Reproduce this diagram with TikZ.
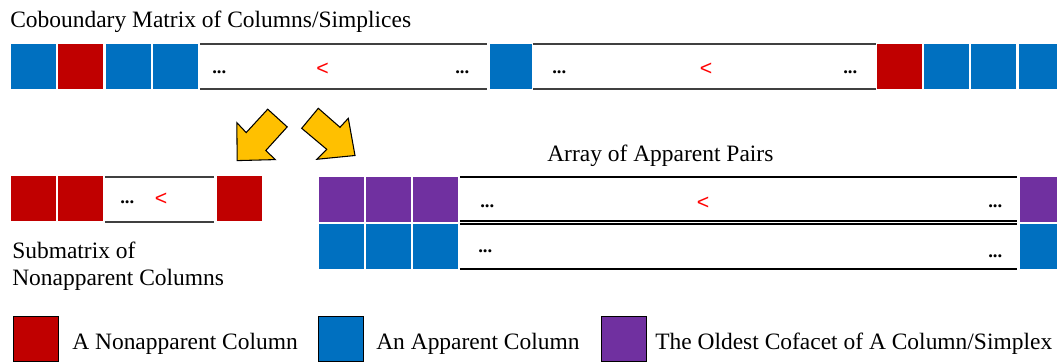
\documentclass[tikz,border=0pt]{standalone}
\usepackage{fontspec}
\setmainfont{Liberation Serif}
\newfontfamily\arialf{Liberation Sans}
\definecolor{cred}{HTML}{C00000}
\definecolor{cblue}{HTML}{0070C0}
\definecolor{cpurp}{HTML}{7030A0}
\definecolor{cyel}{HTML}{FFC000}
\definecolor{lined}{HTML}{404040}
\begin{document}
\begin{tikzpicture}[x=0.75pt,y=-0.75pt,
  cell/.style={rectangle,inner sep=0,minimum width=34.2pt,minimum height=34.2pt,draw=white,line width=0.4pt},
  rc/.style={cell,fill=cred},
  bc/.style={cell,fill=cblue},
  pc/.style={cell,fill=cpurp},
  lg/.style={rectangle,inner sep=0,minimum width=34pt,minimum height=34pt,draw=black,line width=0.8pt},
  box/.style={rectangle,inner sep=0,minimum height=33.4pt},
  boxline/.style={line width=1.3pt,draw=lined},
  txt/.style={anchor=base west,inner sep=0,font=\fontsize{17.6}{20}\selectfont},
  dots/.style={anchor=base west,inner sep=0,font=\fontsize{14}{17}\selectfont\bfseries},
  lt/.style={inner sep=0,text=red,font=\arialf\fontsize{16}{18}\selectfont},
  blk/.style={fill=cyel,draw=black,line width=0.8pt,line join=miter}]
\useasboundingbox (0,0) rectangle (1057,364);
\clip (0,0) rectangle (1057,364);
% title
\node[txt] (title) at (10,27) {Coboundary Matrix of Columns/Simplices};
% top row
\node[bc] (t1) at (33,66) {};
\node[rc] (t2) at (80.5,66) {};
\node[bc] (t3) at (128,66) {};
\node[bc] (t4) at (175.5,66) {};
\node[box,minimum width=215.2pt] (tb1) at (343.5,66.5) {};
\draw[boxline] (tb1.north west) -- (tb1.north east);
\draw[boxline] (tb1.south west) -- (tb1.south east);
\node[dots] (td1) at (212,73) {...};
\node[lt] (tl1) at (322.5,69.5) {<};
\node[dots] (td2) at (455,73) {...};
\node[bc,minimum width=32.6pt] (t5) at (510.5,66) {};
\node[box,minimum width=256.5pt] (tb2) at (704.5,66.5) {};
\draw[boxline] (tb2.north west) -- (tb2.north east);
\draw[boxline] (tb2.south west) -- (tb2.south east);
\node[dots] (td3) at (552,73) {...};
\node[lt] (tl2) at (706,69.5) {<};
\node[dots] (td4) at (843,73) {...};
\node[rc] (t6) at (899.5,66) {};
\node[bc] (t7) at (946.5,66) {};
\node[bc] (t8) at (993.5,66) {};
\node[bc] (t9) at (1041,66) {};
% yellow block arrows
\draw[blk] (287.2,126.9) -- (265.8,150.5) -- (275.3,159.6) -- (237.2,160.6) -- (236.8,122.6) -- (246.2,132.6) -- (267.7,109.2) -- cycle;
\draw[blk] (301.7,128.3) -- (326.7,149.3) -- (316.7,159.3) -- (355,155.5) -- (348.3,118.3) -- (340,127.3) -- (318.3,108.3) -- cycle;
% submatrix
\node[rc] (s1) at (33,198.5) {};
\node[rc] (s2) at (80.5,198.5) {};
\node[box,minimum width=81.7pt] (sb) at (159.5,199.5) {};
\draw[boxline] (sb.north west) -- (sb.north east);
\draw[boxline] (sb.south west) -- (sb.south east);
\node[dots] (sd1) at (120,203) {...};
\node[lt] (sl1) at (161,199.5) {<};
\node[rc] (s3) at (239.5,198.5) {};
\node[txt] (sub1) at (12,258) {Submatrix of};
\node[txt] (sub2) at (12,285) {Nonapparent Columns};
% array of apparent pairs
\node[txt] (arr) at (547,161) {Array of Apparent Pairs};
\node[pc] (p1) at (341,199.5) {};
\node[pc] (p2) at (388.5,199.5) {};
\node[pc] (p3) at (435.5,199.5) {};
\node[pc] (p4) at (1042,199.5) {};
\node[bc] (b1) at (341,246.5) {};
\node[bc] (b2) at (388.5,246.5) {};
\node[bc] (b3) at (435.5,246.5) {};
\node[bc] (b4) at (1042,246.5) {};
\node[box,minimum width=417.7pt,minimum height=33pt] (ab1) at (738.5,199) {};
\draw[boxline,draw=black] (ab1.north west) -- (ab1.north east);
\draw[boxline,draw=black] (ab1.south west) -- (ab1.south east);
\node[box,minimum width=417.7pt,minimum height=33.7pt] (ab2) at (738.5,246.5) {};
\draw[boxline,draw=black] (ab2.north west) -- (ab2.north east);
\draw[boxline,draw=black] (ab2.south west) -- (ab2.south east);
\node[dots] (ad1) at (480,207) {...};
\node[lt] (al1) at (703,203) {<};
\node[dots] (ad2) at (988,207) {...};
\node[dots] (ad3) at (478,252) {...};
\node[dots] (ad4) at (988,257) {...};
% legend
\node[lg,fill=cred] (l1) at (36,339) {};
\node[txt] (lt1) at (72,349) {A Nonapparent Column};
\node[lg,fill=cblue] (l2) at (341,339) {};
\node[txt] (lt2) at (376,349) {An Apparent Column};
\node[lg,fill=cpurp] (l3) at (624,339) {};
\node[txt] (lt3) at (655,349) {The Oldest Cofacet of A Column/Simplex};
\end{tikzpicture}
\end{document}
